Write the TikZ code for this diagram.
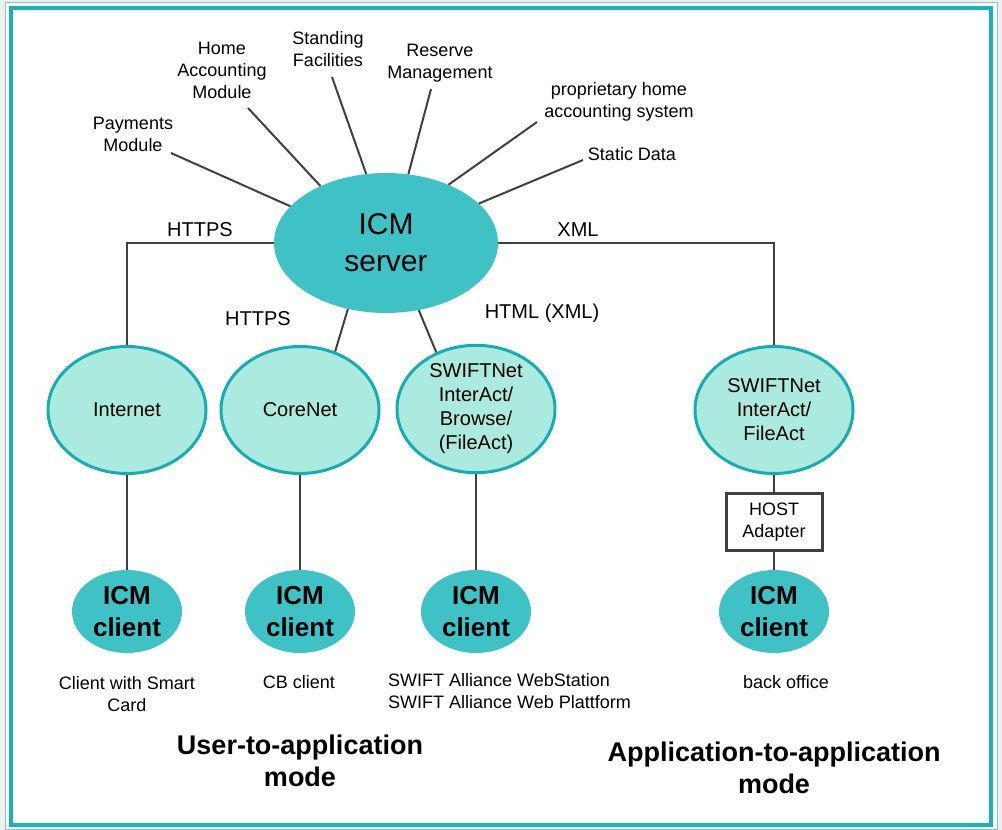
\documentclass[tikz,border=0pt]{standalone}
\usepackage{fontspec}
\setmainfont{Liberation Sans}
\usetikzlibrary{shapes.geometric}
\definecolor{srvteal}{RGB}{62,194,198}
\definecolor{lightfill}{RGB}{171,234,223}
\definecolor{ellborder}{RGB}{22,173,178}
\definecolor{frameteal}{RGB}{26,178,182}
\definecolor{frameout}{RGB}{120,205,206}
\definecolor{linegray}{RGB}{64,64,64}
\definecolor{outerbg}{RGB}{238,240,237}
\tikzset{
  conn/.style={draw=linegray, line width=2pt},
  lbl/.style={align=center, inner sep=0pt, font=\fontsize{18}{22}\selectfont},
  prot/.style={align=center, inner sep=0pt, font=\fontsize{20}{24}\selectfont},
  netell/.style={ellipse, draw=ellborder, line width=3pt, fill=lightfill, inner sep=0pt,
     minimum width=158pt, minimum height=127pt, align=center, font=\fontsize{20}{24}\selectfont},
  srvell/.style={ellipse, fill=srvteal, inner sep=0pt, minimum width=224pt, minimum height=140pt,
     align=center, font=\fontsize{30}{37}\selectfont},
  cliell/.style={ellipse, fill=srvteal, inner sep=0pt, minimum width=110pt, minimum height=83pt,
     align=center, font=\fontsize{26}{32}\selectfont\bfseries},
  hostbox/.style={rectangle, draw=linegray, line width=3pt, fill=white, inner sep=0pt,
     minimum width=96pt, minimum height=57pt, align=center, font=\fontsize{18}{22}\selectfont},
  title/.style={align=center, inner sep=0pt, font=\fontsize{27}{32}\selectfont\bfseries}
}
\begin{document}
\begin{tikzpicture}[x=1pt,y=-1pt]
\useasboundingbox (0,0) rectangle (1002,830);
% frame
\fill[outerbg] (0,0) rectangle (1002,830);
\fill[white] (5,2) rectangle (998,830);
\draw[frameout, line width=1.2pt] (5.5,2.5) rectangle (997.5,829.5);
\draw[frameteal, line width=3.5pt] (11,8) rectangle (991,825);

% server
\node[srvell] (server) at (386,243) {ICM\\server};

% top labels
\node[lbl] (pay) at (133,134) {Payments\\Module};
\node[lbl] (home) at (222,70) {Home\\Accounting\\Module};
\node[lbl] (stand) at (328,49) {Standing\\Facilities};
\node[lbl] (res) at (440,63) {Reserve\\Management};
\node[lbl] (prop) at (619,102) {proprietary home\\accounting system};
\node[lbl] (stat) at (632,154) {Static Data};

\coordinate (cpay) at (171,153);
\coordinate (chome) at (248,108);
\coordinate (cstand) at (332,77);
\coordinate (cres) at (431,89);
\coordinate (cprop) at (537,122);
\coordinate (cstat) at (583,160);

\draw[conn] (cpay) -- (server.159.6);
\draw[conn] (chome) -- (server.139.2);
\draw[conn] (cstand) -- (server.106.2);
\draw[conn] (cres) -- (server.72.3);
\draw[conn] (cprop) -- (server.43.1);
\draw[conn] (cstat) -- (server.23.4);

% network ellipses
\node[netell] (inet) at (127,410) {Internet};
\node[netell] (core) at (300,410) {CoreNet};
\node[netell] (swa) at (476,409) {SWIFTNet\\InterAct/\\Browse/\\(FileAct)};
\node[netell] (swb) at (774,410) {SWIFTNet\\InterAct/\\FileAct};

% protocol labels
\node[prot] (https1) at (200,230) {HTTPS};
\node[prot] (https2) at (258,319) {HTTPS};
\node[prot] (xml) at (578,230) {XML};
\node[prot] (html) at (542,313) {HTML (XML)};

\draw[conn] (server.west) -| (inet.north);
\draw[conn] (server.east) -| (swb.north);
\draw[conn] (server.240.6) -- (core.59.2);
\draw[conn] (server.296.6) -- (swa.125.7);

% host adapter
\node[hostbox] (host) at (774,522) {HOST\\Adapter};

% clients
\node[cliell] (cl1) at (127,611.5) {ICM\\client};
\node[cliell] (cl2) at (300,611.5) {ICM\\client};
\node[cliell] (cl3) at (476,611.5) {ICM\\client};
\node[cliell] (cl4) at (774,611.5) {ICM\\client};

\draw[conn] (inet.south) -- (cl1.north);
\draw[conn] (core.south) -- (cl2.north);
\draw[conn] (swa.south) -- (cl3.north);
\draw[conn] (swb.south) -- (host.north);
\draw[conn] (host.south) -- (cl4.north);

% client descriptions
\node[lbl] (d1) at (127,694) {Client with Smart\\Card};
\node[lbl] (d2) at (299,682) {CB client};
\node[lbl, anchor=west, align=left] (d3) at (388,691) {SWIFT Alliance WebStation\\SWIFT Alliance Web Plattform};
\node[lbl] (d4) at (786,682) {back office};

% titles
\node[title] (t1) at (300,761) {User-to-application\\mode};
\node[title] (t2) at (774,768) {Application-to-application\\mode};
\end{tikzpicture}
\end{document}
